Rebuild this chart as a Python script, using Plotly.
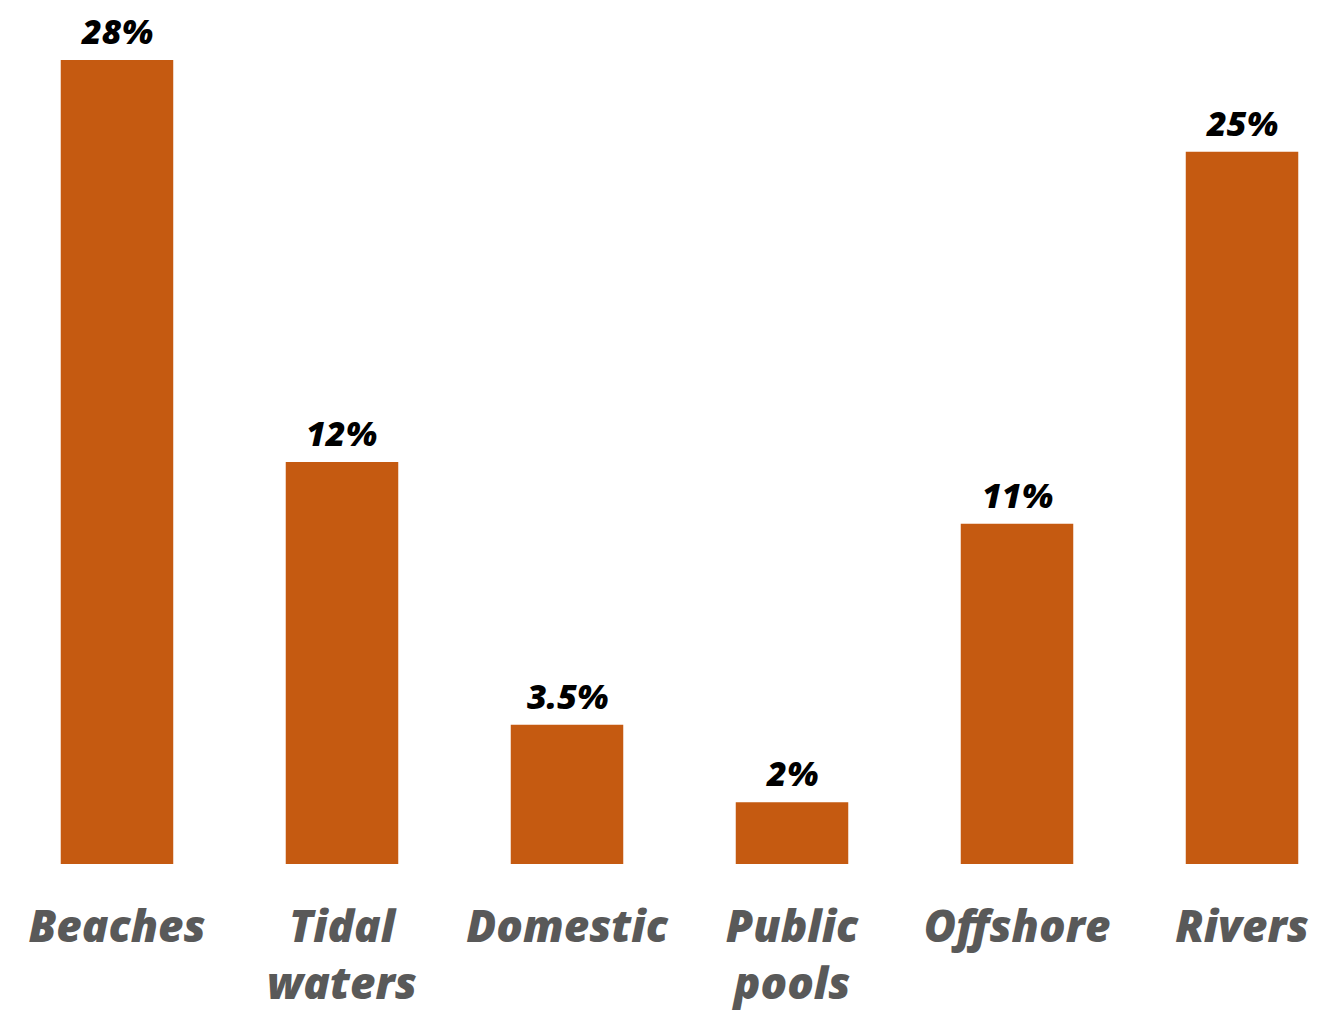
import plotly.graph_objects as go

categories = ["Beaches", "Tidal<br>waters", "Domestic", "Public<br>pools", "Offshore", "Rivers"]
# bar heights as drawn in the picture (percent scale)
bar_values = [28, 14, 4.85, 2.15, 11.85, 24.8]
value_labels = ["28%", "12%", "3.5%", "2%", "11%", "25%"]

BAR_COLOR = "#C55A11"

fig = go.Figure()
fig.add_trace(go.Bar(
    x=categories,
    y=bar_values,
    marker=dict(color=BAR_COLOR, line=dict(width=0)),
    width=0.5,
    hoverinfo="skip",
))

for c, v, t in zip(categories, bar_values, value_labels):
    fig.add_annotation(
        x=c, y=v, text=f"<i>{t}</i>", showarrow=False,
        yanchor="bottom", yshift=5, borderpad=0,
        font=dict(family="Open Sans", size=34, color="#000000", weight=800),
    )

fig.update_layout(
    width=1318, height=1003,
    margin=dict(l=0, r=0, t=0, b=147, autoexpand=False),
    paper_bgcolor="white", plot_bgcolor="white",
    showlegend=False,
    xaxis=dict(
        range=[-0.4844, 5.3733],
        automargin=False,
        showgrid=False, zeroline=False, showline=False, ticks="",
        tickfont=dict(family="Open Sans", size=44, color="#595959", weight=800, style="italic"),
        ticklabelstandoff=33,
        fixedrange=True,
    ),
    yaxis=dict(
        range=[0, 29.81],
        automargin=False,
        visible=False, showgrid=False, zeroline=False,
        fixedrange=True,
    ),
)

fig.write_html("out.html")
